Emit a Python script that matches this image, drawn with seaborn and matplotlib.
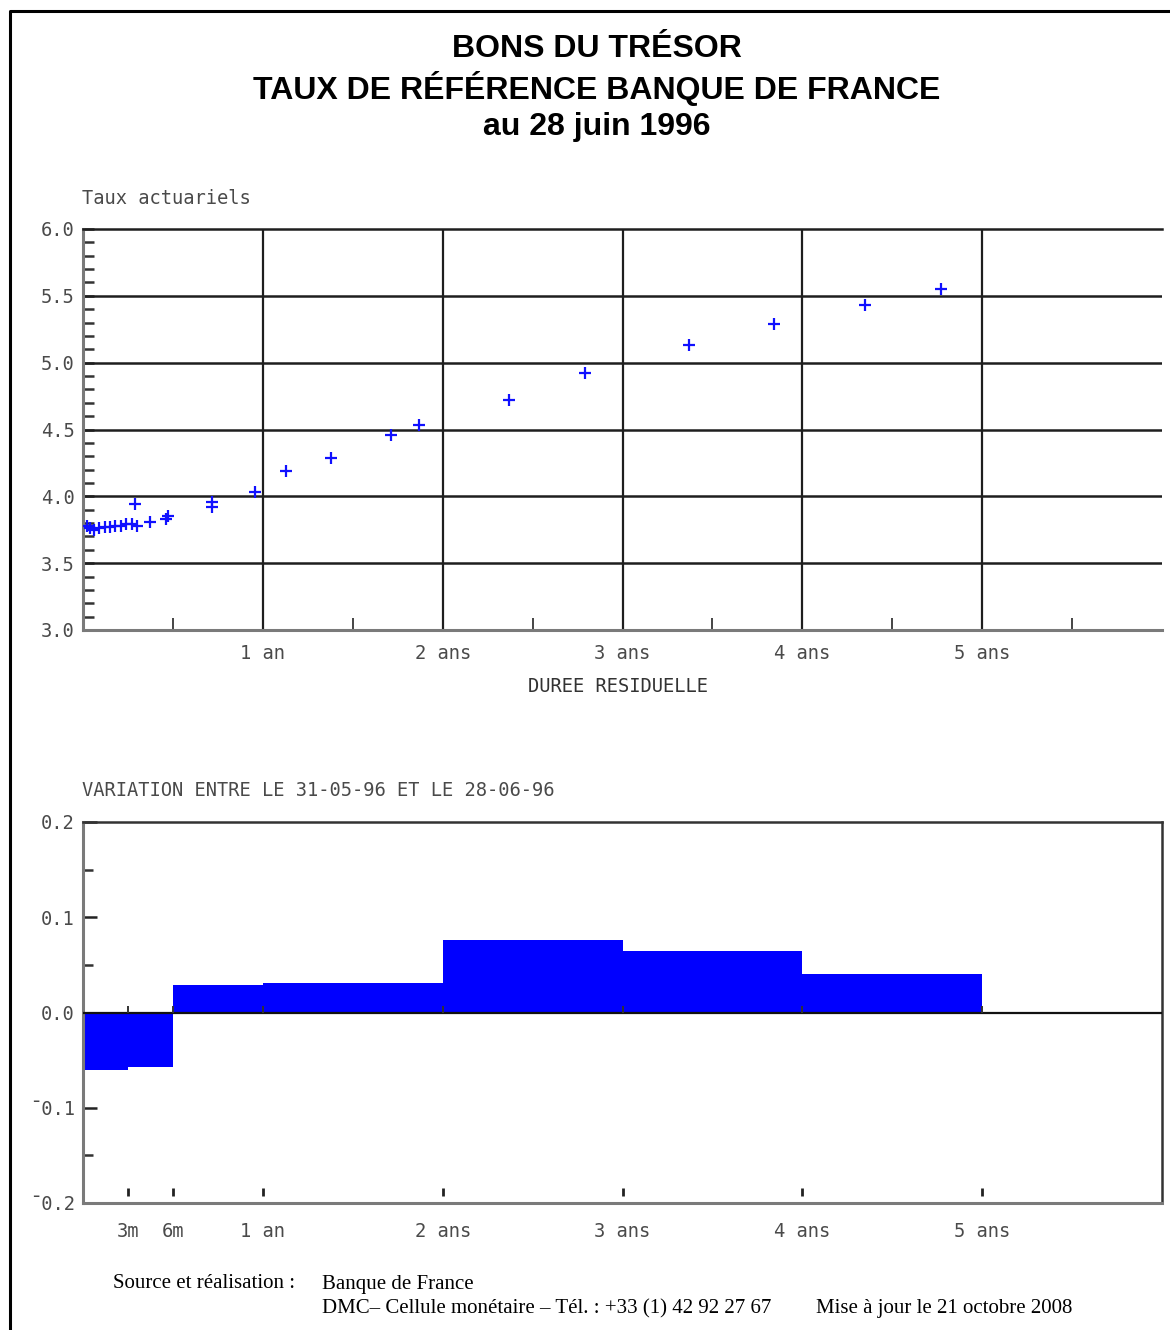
import numpy as np
import pandas as pd
import matplotlib
matplotlib.use("Agg")
import matplotlib.pyplot as plt
from matplotlib.lines import Line2D
import seaborn as sns

# ---------------- data ----------------
title_lines = ["BONS DU TRÉSOR", "TAUX DE RÉFÉRENCE BANQUE DE FRANCE", "au 28 juin 1996"]

# residual maturity (years) and yield (%)
maturity = [0.02, 0.04, 0.06, 0.09, 0.12, 0.15, 0.18, 0.21, 0.24, 0.27, 0.29, 0.30,
            0.37, 0.46, 0.47, 0.72, 0.72, 0.955, 1.13, 1.38, 1.71, 1.87,
            2.37, 2.79, 3.37, 3.84, 4.35, 4.77]
rate = [3.78, 3.76, 3.75, 3.76, 3.77, 3.77, 3.78, 3.78, 3.79, 3.79, 3.94, 3.78,
        3.81, 3.83, 3.85, 3.92, 3.96, 4.03, 4.19, 4.29, 4.46, 4.53,
        4.72, 4.92, 5.13, 5.29, 5.43, 5.55]

top_xticks = [1, 2, 3, 4, 5]
top_xlabels = ["1 an", "2 ans", "3 ans", "4 ans", "5 ans"]
top_yticks = [3.0, 3.5, 4.0, 4.5, 5.0, 5.5, 6.0]

# variation between 31-05-96 and 28-06-96 (step bars)
bucket_edges = [0.0, 0.25, 0.5, 1.0, 2.0, 3.0, 4.0, 5.0]
variation = [-0.060, -0.057, 0.029, 0.031, 0.076, 0.065, 0.040]

bot_xticks = [0.25, 0.5, 1, 2, 3, 4, 5]
bot_xlabels = ["3m", "6m", "1 an", "2 ans", "3 ans", "4 ans", "5 ans"]
bot_yticks = [-0.2, -0.1, 0.0, 0.1, 0.2]
bot_ylabels = ["\u00af0.2", "\u00af0.1", "0.0", "0.1", "0.2"]

# ---------------- style ----------------
sns.set_theme(style="white")
plt.rcParams["font.family"] = ["DejaVu Sans"]

W, H = 1170, 1330
fig = plt.figure(figsize=(W / 100, H / 100), dpi=100)
fig.patch.set_facecolor("white")

mono = "DejaVu Sans Mono"
tick_col = "#4a4a4a"
tick_fs = 13.5
spine_col = "#7a7a7a"
grid_col = "#1e1e1e"


def fx(px):
    return px / W


def fy(py):
    return 1 - py / H


# frame
fig.add_artist(Line2D([fx(10), fx(10), 1.0], [0.0, fy(11), fy(11)],
                      color="black", lw=2.2, transform=fig.transFigure))

# title
for line, yy in zip(title_lines, [49, 88, 127]):
    fig.text(fx(597), fy(yy), line, ha="center", va="center",
             fontsize=23, fontweight="bold", family="Liberation Sans", color="black")

# ---------------- top chart ----------------
ax1 = fig.add_axes([fx(83), fy(630), fx(1162) - fx(83), fy(229) - fy(630)])
df = pd.DataFrame({"maturity": maturity, "rate": rate})
sns.scatterplot(data=df, x="maturity", y="rate", ax=ax1, marker="+", s=70,
                color="#1010ff", linewidth=1.6, zorder=5, legend=False)
ax1.set_xlim(0, 6)
ax1.set_ylim(3.0, 6.0)
for x in top_xticks:
    ax1.axvline(x, color=grid_col, lw=1.6, zorder=1)
for y in top_yticks[1:-1]:
    ax1.axhline(y, color=grid_col, lw=1.8, zorder=1)
ax1.set_xticks(top_xticks)
ax1.set_xticklabels(top_xlabels, family=mono, fontsize=tick_fs, color=tick_col)
ax1.set_xticks(np.arange(0.5, 6, 1.0), minor=True)
ax1.set_yticks(top_yticks)
ax1.set_yticklabels([f"{v:.1f}" for v in top_yticks], family=mono,
                    fontsize=tick_fs, color=tick_col)
ax1.set_yticks(np.arange(3.0, 6.0, 0.1), minor=True)
ax1.tick_params(axis="x", which="major", length=0, pad=10)
ax1.tick_params(axis="x", which="minor", direction="in", length=9, width=1.4,
                color="#444444", bottom=True)
ax1.tick_params(axis="y", which="major", direction="in", length=8, width=1.8,
                color="#333333", pad=6, left=True)
ax1.tick_params(axis="y", which="minor", direction="in", length=8, width=1.8,
                color="#333333", left=True)
ax1.set_xlabel("")
ax1.set_ylabel("")
for side in ["left", "bottom"]:
    ax1.spines[side].set_color(spine_col)
    ax1.spines[side].set_linewidth(2.2)
ax1.spines["top"].set_color(grid_col)
ax1.spines["top"].set_linewidth(1.8)
ax1.spines["right"].set_visible(False)

fig.text(fx(82), fy(198), "Taux actuariels", ha="left", va="center",
         family=mono, fontsize=tick_fs, color=tick_col)
fig.text(fx(618), fy(687), "DUREE RESIDUELLE", ha="center", va="center",
         family=mono, fontsize=tick_fs, color="#333333")

# ---------------- bottom chart ----------------
ax2 = fig.add_axes([fx(83), fy(1203), fx(1162) - fx(83), fy(822) - fy(1203)])
edges = np.array(bucket_edges)
ax2.bar(edges[:-1], variation, width=np.diff(edges), align="edge",
        color="#0000ff", edgecolor="none", zorder=2)
ax2.axhline(0.0, color="#111111", lw=1.6, zorder=3)
ax2.set_xlim(0, 6)
ax2.set_ylim(-0.2, 0.2)
ax2.set_xticks(bot_xticks)
ax2.set_xticklabels(bot_xlabels, family=mono, fontsize=tick_fs, color=tick_col)
ax2.set_yticks(bot_yticks)
ax2.set_yticklabels(bot_ylabels, family=mono, fontsize=tick_fs, color=tick_col)
ax2.set_yticks(np.arange(-0.15, 0.2, 0.1), minor=True)
ax2.tick_params(axis="x", which="major", length=0, pad=14)
ax2.tick_params(axis="y", which="major", direction="in", length=10, width=1.8,
                color="#222222", pad=6, left=True)
ax2.tick_params(axis="y", which="minor", direction="in", length=7, width=1.8,
                color="#333333", left=True)
# small tick marks above the bottom axis and at the zero line
ax2.vlines(bot_xticks, -0.193, -0.184, color="#222222", lw=2, zorder=4)
ax2.vlines(bot_xticks, 0.0, 0.007, color="#333333", lw=1.4, zorder=4)
for side in ["left", "bottom"]:
    ax2.spines[side].set_color(spine_col)
    ax2.spines[side].set_linewidth(2.2)
for side in ["top", "right"]:
    ax2.spines[side].set_color("#333333")
    ax2.spines[side].set_linewidth(1.8)

fig.text(fx(82), fy(791), "VARIATION ENTRE LE 31-05-96 ET LE 28-06-96",
         ha="left", va="center", family=mono, fontsize=tick_fs, color=tick_col)

# ---------------- footer ----------------
serif = "Liberation Serif"
foot_fs = 15
fig.text(fx(113), fy(1284), "Source et réalisation :", ha="left", va="center",
         family=serif, fontsize=foot_fs, color="black")
fig.text(fx(322), fy(1284), "Banque de France", ha="left", va="center",
         family=serif, fontsize=foot_fs, color="black")
fig.text(fx(322), fy(1309), "DMC\u2013 Cellule monétaire \u2013 Tél. : +33 (1) 42 92 27 67",
         ha="left", va="center", family=serif, fontsize=foot_fs, color="black")
fig.text(fx(816), fy(1309), "Mise à jour le 21 octobre 2008", ha="left", va="center",
         family=serif, fontsize=foot_fs, color="black")

fig.savefig("out.png", dpi=100, facecolor="white")
